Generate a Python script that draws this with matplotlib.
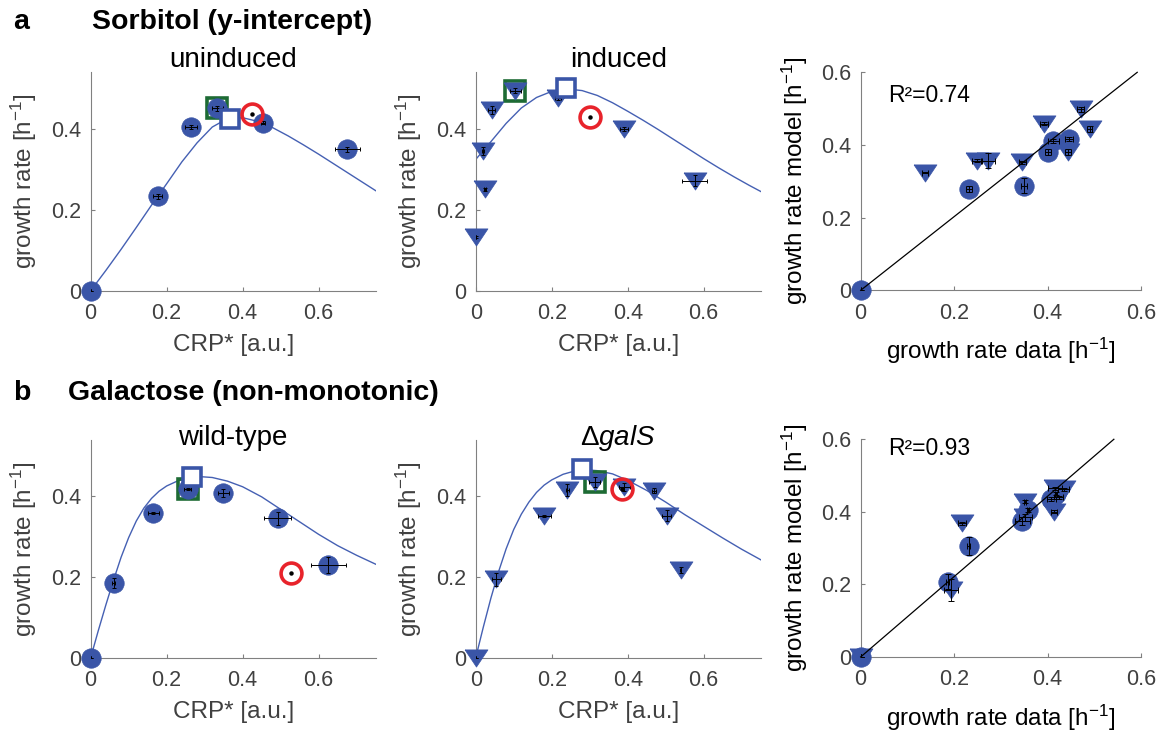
import matplotlib
matplotlib.use("Agg")
import matplotlib.pyplot as plt
import numpy as np

plt.rcParams['font.family'] = ['Liberation Sans', 'DejaVu Sans']
plt.rcParams['mathtext.fontset'] = 'custom'
plt.rcParams['mathtext.rm'] = 'Liberation Sans'
plt.rcParams['mathtext.it'] = 'Liberation Sans:italic'

# ---- data: Sorbitol, uninduced (circles) ----
sorb_un_x = [0, 0.176, 0.264, 0.333, 0.453, 0.675]
sorb_un_y = [0, 0.233, 0.403, 0.450, 0.415, 0.349]
sorb_un_xerr = [0, 0.013, 0.015, 0.014, 0.005, 0.033]
sorb_un_yerr = [0, 0.006, 0.005, 0.006, 0.004, 0.006]
sorb_un_curve_x = [0, 0.04, 0.08, 0.12, 0.16, 0.20, 0.24, 0.28, 0.32, 0.36, 0.40, 0.44,
                   0.48, 0.52, 0.56, 0.60, 0.64, 0.68, 0.72, 0.75]
sorb_un_curve_y = [0, 0.050, 0.102, 0.156, 0.211, 0.264, 0.318, 0.365, 0.404, 0.425, 0.427, 0.418,
                   0.402, 0.382, 0.360, 0.337, 0.313, 0.289, 0.265, 0.247]
sorb_un_green = [0.333, 0.450]
sorb_un_blue = [0.368, 0.424]
sorb_un_red = [0.425, 0.436]

# ---- Sorbitol, induced (triangles) ----
sorb_in_x = [0, 0.020, 0.025, 0.042, 0.104, 0.217, 0.390, 0.576]
sorb_in_y = [0.132, 0.345, 0.250, 0.447, 0.494, 0.475, 0.399, 0.272]
sorb_in_xerr = [0, 0.003, 0.002, 0.010, 0.015, 0.008, 0.010, 0.033]
sorb_in_yerr = [0.003, 0.010, 0.003, 0.010, 0.006, 0.004, 0.006, 0.014]
sorb_in_curve_x = [0, 0.04, 0.08, 0.12, 0.16, 0.20, 0.24, 0.28, 0.32, 0.36, 0.40, 0.44,
                   0.48, 0.52, 0.56, 0.60, 0.64, 0.68, 0.72, 0.75]
sorb_in_curve_y = [0.324, 0.368, 0.413, 0.451, 0.477, 0.492, 0.498, 0.494, 0.482, 0.464, 0.443, 0.421,
                   0.398, 0.374, 0.350, 0.326, 0.303, 0.281, 0.260, 0.245]
sorb_in_green = [0.104, 0.494]
sorb_in_blue = [0.237, 0.500]
sorb_in_red = [0.302, 0.428]

# ---- Sorbitol, model vs data ----
sorb_fit_circ_data = [0, 0.232, 0.349, 0.401, 0.412, 0.446]
sorb_fit_circ_model = [0, 0.279, 0.288, 0.380, 0.411, 0.416]
sorb_fit_circ_xerr = [0, 0.006, 0.006, 0.006, 0.012, 0.008]
sorb_fit_circ_yerr = [0, 0.008, 0.021, 0.008, 0.006, 0.006]
sorb_fit_tri_data = [0.138, 0.248, 0.273, 0.346, 0.392, 0.444, 0.471, 0.490]
sorb_fit_tri_model = [0.324, 0.357, 0.357, 0.352, 0.459, 0.380, 0.498, 0.443]
sorb_fit_tri_xerr = [0.006, 0.010, 0.014, 0.008, 0.008, 0.006, 0.008, 0.006]
sorb_fit_tri_yerr = [0.001, 0.004, 0.021, 0.004, 0.004, 0.008, 0.006, 0.008]
sorb_line_x = [0, 0.592]
sorb_line_y = [0, 0.600]
sorb_r2 = 'R²=0.74'

# ---- Galactose, wild-type (circles) ----
gal_wt_x = [0, 0.061, 0.165, 0.255, 0.349, 0.492, 0.625]
gal_wt_y = [0, 0.186, 0.359, 0.418, 0.408, 0.346, 0.231]
gal_wt_xerr = [0, 0.004, 0.015, 0.010, 0.015, 0.035, 0.046]
gal_wt_yerr = [0, 0.012, 0.002, 0.003, 0.010, 0.016, 0.020]
gal_wt_curve_x = [0, 0.02, 0.04, 0.06, 0.08, 0.10, 0.12, 0.14, 0.16, 0.18, 0.20, 0.23, 0.26,
                  0.29, 0.32, 0.36, 0.40, 0.45, 0.50, 0.55, 0.60, 0.65, 0.70, 0.75]
gal_wt_curve_y = [0, 0.067, 0.131, 0.192, 0.249, 0.298, 0.339, 0.371, 0.395, 0.413, 0.426, 0.439, 0.446,
                  0.449, 0.447, 0.438, 0.424, 0.399, 0.368, 0.337, 0.306, 0.278, 0.254, 0.232]
gal_wt_green = [0.255, 0.418]
gal_wt_blue = [0.268, 0.447]
gal_wt_red = [0.527, 0.211]

# ---- Galactose, delta galS (triangles) ----
gal_ko_x = [0, 0.054, 0.181, 0.241, 0.313, 0.391, 0.470, 0.503, 0.539]
gal_ko_y = [0, 0.194, 0.351, 0.417, 0.435, 0.424, 0.414, 0.352, 0.217]
gal_ko_xerr = [0, 0.012, 0.016, 0.004, 0.015, 0.015, 0.005, 0.012, 0.002]
gal_ko_yerr = [0, 0.015, 0.002, 0.015, 0.012, 0.010, 0.006, 0.014, 0.008]
gal_ko_curve_x = [0, 0.02, 0.04, 0.06, 0.08, 0.10, 0.12, 0.14, 0.16, 0.18, 0.20, 0.23, 0.26,
                  0.29, 0.32, 0.36, 0.40, 0.45, 0.50, 0.55, 0.60, 0.65, 0.70, 0.75]
gal_ko_curve_y = [0, 0.076, 0.148, 0.213, 0.270, 0.318, 0.356, 0.386, 0.410, 0.428, 0.441, 0.455, 0.463,
                  0.466, 0.464, 0.456, 0.440, 0.415, 0.386, 0.355, 0.326, 0.297, 0.269, 0.243]
gal_ko_green = [0.313, 0.435]
gal_ko_blue = [0.279, 0.468]
gal_ko_red = [0.386, 0.418]

# ---- Galactose, model vs data ----
gal_fit_circ_data = [0, 0.186, 0.231, 0.346, 0.359, 0.408, 0.418]
gal_fit_circ_model = [0, 0.208, 0.306, 0.375, 0.405, 0.435, 0.450]
gal_fit_circ_xerr = [0, 0.004, 0.003, 0.016, 0.002, 0.010, 0.003]
gal_fit_circ_yerr = [0, 0.022, 0.025, 0.010, 0.006, 0.006, 0.004]
gal_fit_tri_data = [0, 0.194, 0.217, 0.351, 0.352, 0.414, 0.417, 0.424, 0.435]
gal_fit_tri_model = [0, 0.185, 0.368, 0.428, 0.385, 0.400, 0.465, 0.440, 0.462]
gal_fit_tri_xerr = [0, 0.015, 0.008, 0.002, 0.014, 0.006, 0.015, 0.010, 0.012]
gal_fit_tri_yerr = [0, 0.030, 0.004, 0.004, 0.010, 0.004, 0.004, 0.004, 0.004]
gal_line_x = [0, 0.542]
gal_line_y = [0, 0.600]
gal_r2 = 'R²=0.93'

BLUE = '#3a55a7'
LINE_BLUE = '#4560b3'
GREEN = '#1d6b34'
RED = '#e8232b'
GRAY = '#808080'
TXT = '#404040'

# MATLAB-like downward triangle (wider than tall)
TRI = [(-1, 0.75), (1, 0.75), (0, -0.75), (-1, 0.75)]
CIRC_MS = 14
TRI_MS = 16.5

fig = plt.figure(figsize=(11.64, 7.32), dpi=100)

def W(px):
    return px / 1164.0

def H(py):
    return 1 - py / 732.0


def style(ax, xlim, ylim, xticks, yticks):
    ax.set_xlim(xlim)
    ax.set_ylim(ylim)
    ax.set_xticks(xticks)
    ax.set_yticks(yticks)
    ax.set_xticklabels([('%g' % t) for t in xticks])
    ax.set_yticklabels([('%g' % t) for t in yticks])
    for s in ['top', 'right']:
        ax.spines[s].set_visible(False)
    for s in ['left', 'bottom']:
        ax.spines[s].set_color(GRAY)
        ax.spines[s].set_linewidth(0.8)
    ax.tick_params(direction='in', length=3, width=0.8, color=GRAY,
                   labelcolor=TXT, labelsize=15.5)
    ax.tick_params(axis='x', pad=9)
    ax.tick_params(axis='y', pad=7)


def crp_panel(rect, x, y, xerr, yerr, cx, cy, green, blue, red, marker, ms, title, title_y):
    ax = fig.add_axes(rect)
    style(ax, (0, 0.75), (0, 0.54), [0, 0.2, 0.4, 0.6], [0, 0.2, 0.4])
    ax.plot(cx, cy, '-', color=LINE_BLUE, lw=1.0, zorder=2)
    ax.plot(green[0], green[1], 's', ms=14, mfc='none', mec=GREEN, mew=2.6, zorder=3, clip_on=False)
    ax.plot(x, y, linestyle='none', marker=marker, ms=ms, color=BLUE, mec=BLUE, mew=0.5,
            zorder=4, clip_on=False)
    ax.errorbar(x, y, xerr=xerr, yerr=yerr, fmt='none', ecolor='black', elinewidth=0.7,
                capsize=1.5, capthick=0.7, zorder=5)
    ax.plot(blue[0], blue[1], 's', ms=13, mfc='white', mec=BLUE, mew=2.6, zorder=6, clip_on=False)
    ax.plot(red[0], red[1], 'o', ms=15, mfc='none', mec=RED, mew=2.6, zorder=7)
    ax.plot(red[0], red[1], 'o', ms=2.2, color='black', zorder=8)
    ax.set_xlabel('CRP* [a.u.]', fontsize=17.5, color=TXT)
    ax.set_ylabel('growth rate [h$^{\\mathregular{-1}}$]', fontsize=17.5, color=TXT)
    ax.yaxis.set_label_coords(-0.183, 0.5)
    ax.xaxis.set_label_coords(0.5, -0.2)
    fig.text(rect[0] + rect[2] / 2, title_y, title, fontsize=20, ha='center', va='baseline')
    return ax


def fit_panel(rect, cd, cm, cxe, cye, td, tm, txe, tye, lx, ly, r2, r2y):
    ax = fig.add_axes(rect)
    style(ax, (0, 0.6), (0, 0.6), [0, 0.2, 0.4, 0.6], [0, 0.2, 0.4, 0.6])
    ax.plot(cd, cm, 'o', ms=CIRC_MS, color=BLUE, mec=BLUE, mew=0.5, zorder=3, clip_on=False)
    ax.plot(td, tm, linestyle='none', marker=TRI, ms=TRI_MS, color=BLUE, mec=BLUE, mew=0.5,
            zorder=3, clip_on=False)
    ax.errorbar(cd, cm, xerr=cxe, yerr=cye, fmt='none', ecolor='black', elinewidth=0.7,
                capsize=2, capthick=0.7, zorder=4)
    ax.errorbar(td, tm, xerr=txe, yerr=tye, fmt='none', ecolor='black', elinewidth=0.7,
                capsize=2, capthick=0.7, zorder=4)
    ax.plot(lx, ly, '-', color='black', lw=0.9, zorder=5, clip_on=False)
    ax.text(0.098, r2y, r2, transform=ax.transAxes, fontsize=16.5, va='baseline')
    ax.set_xlabel('growth rate data [h$^{\\mathregular{-1}}$]', fontsize=17.5)
    ax.set_ylabel('growth rate model [h$^{\\mathregular{-1}}$]', fontsize=17.5)
    ax.yaxis.set_label_coords(-0.18, 0.5)
    ax.xaxis.set_label_coords(0.5, -0.21)
    return ax


# row a
crp_panel([0.0779, 0.6029, 0.2448, 0.2988], sorb_un_x, sorb_un_y, sorb_un_xerr, sorb_un_yerr,
          sorb_un_curve_x, sorb_un_curve_y, sorb_un_green, sorb_un_blue, sorb_un_red,
          'o', CIRC_MS, 'uninduced', H(67))
crp_panel([0.4087, 0.6029, 0.2448, 0.2988], sorb_in_x, sorb_in_y, sorb_in_xerr, sorb_in_yerr,
          sorb_in_curve_x, sorb_in_curve_y, sorb_in_green, sorb_in_blue, sorb_in_red,
          TRI, TRI_MS, 'induced', H(67))
fit_panel([0.7394, 0.6034, 0.2408, 0.2978], sorb_fit_circ_data, sorb_fit_circ_model,
          sorb_fit_circ_xerr, sorb_fit_circ_yerr, sorb_fit_tri_data, sorb_fit_tri_model,
          sorb_fit_tri_xerr, sorb_fit_tri_yerr, sorb_line_x, sorb_line_y, sorb_r2, 0.865)

# row b
crp_panel([0.0779, 0.1015, 0.2448, 0.2974], gal_wt_x, gal_wt_y, gal_wt_xerr, gal_wt_yerr,
          gal_wt_curve_x, gal_wt_curve_y, gal_wt_green, gal_wt_blue, gal_wt_red,
          'o', CIRC_MS, 'wild-type', H(445))
crp_panel([0.4087, 0.1015, 0.2448, 0.2974], gal_ko_x, gal_ko_y, gal_ko_xerr, gal_ko_yerr,
          gal_ko_curve_x, gal_ko_curve_y, gal_ko_green, gal_ko_blue, gal_ko_red,
          TRI, TRI_MS, 'Δ$\\mathit{galS}$', H(445))
fit_panel([0.7394, 0.1025, 0.2408, 0.2974], gal_fit_circ_data, gal_fit_circ_model,
          gal_fit_circ_xerr, gal_fit_circ_yerr, gal_fit_tri_data, gal_fit_tri_model,
          gal_fit_tri_xerr, gal_fit_tri_yerr, gal_line_x, gal_line_y, gal_r2, 0.928)

# panel headings
fig.text(W(13), H(29), 'a', fontsize=20.5, weight='bold', va='baseline')
fig.text(W(92), H(29), 'Sorbitol (y-intercept)', fontsize=20.5, weight='bold', va='baseline')
fig.text(W(13), H(400), 'b', fontsize=20.5, weight='bold', va='baseline')
fig.text(W(68), H(400), 'Galactose (non-monotonic)', fontsize=20.5, weight='bold', va='baseline')

fig.savefig('out.png', dpi=100)
